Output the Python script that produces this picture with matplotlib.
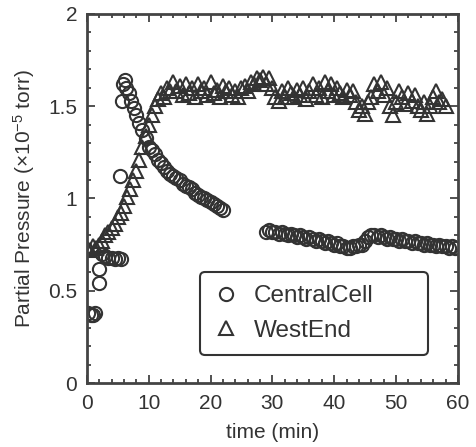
import numpy as np
import matplotlib
matplotlib.use("Agg")
from matplotlib import pyplot as plt
from matplotlib.ticker import MultipleLocator

# CentralCell partial pressure (x1e-5 torr) vs time (min)
central_t = [0.2, 0.6, 1.0, 1.4, 1.9, 2.0,
             2.5, 3.0, 3.5, 4.0, 4.5, 5.0, 5.5, 5.3,
             5.7, 5.9, 6.1, 6.4, 6.8, 7.2, 7.6, 8.0, 8.5, 9.0, 9.5, 10.0,
             10.5, 11.0, 11.5, 12.0, 12.5, 13.0, 13.5, 14.0, 14.5, 15.0,
             15.5, 16.0, 16.5, 17.0, 17.5, 18.0, 18.5, 19.0, 19.5, 20.0,
             20.5, 21.0, 21.5, 22.0,
             29.0, 29.5, 30.0, 30.5, 31.0, 31.5, 32.0, 32.5, 33.0, 33.5,
             34.0, 34.5, 35.0, 35.5, 36.0, 36.5, 37.0, 37.5, 38.0, 38.5,
             39.0, 39.5, 40.0, 40.5, 41.0, 41.5, 42.0, 42.5, 43.0, 43.5,
             44.0, 44.5, 45.0, 45.5, 46.0, 46.5, 47.0, 47.5, 48.0, 48.5,
             49.0, 49.5, 50.0, 50.5, 51.0, 51.5, 52.0, 52.5, 53.0, 53.5,
             54.0, 54.5, 55.0, 55.5, 56.0, 56.5, 57.0, 57.5, 58.0, 58.5,
             59.0, 59.5]
central_p = [0.38, 0.37, 0.37, 0.38, 0.54, 0.62,
             0.70, 0.69, 0.68, 0.68, 0.67, 0.68, 0.67, 1.12,
             1.53, 1.62, 1.64, 1.60, 1.57, 1.53, 1.49, 1.45, 1.41, 1.37, 1.33, 1.28,
             1.26, 1.24, 1.21, 1.19, 1.17, 1.15, 1.13, 1.12, 1.11, 1.10,
             1.08, 1.07, 1.06, 1.05, 1.03, 1.02, 1.01, 1.00, 0.99, 0.98,
             0.97, 0.96, 0.95, 0.94,
             0.82, 0.83, 0.82, 0.82, 0.81, 0.82, 0.81, 0.80, 0.81, 0.80,
             0.79, 0.80, 0.79, 0.78, 0.79, 0.78, 0.77, 0.78, 0.77, 0.76,
             0.77, 0.76, 0.75, 0.76, 0.74, 0.74, 0.73, 0.73, 0.74, 0.74,
             0.75, 0.75, 0.77, 0.79, 0.80, 0.80, 0.79, 0.80, 0.79, 0.78,
             0.79, 0.78, 0.78, 0.77, 0.78, 0.77, 0.77, 0.76, 0.77, 0.76,
             0.76, 0.75, 0.76, 0.75, 0.75, 0.74, 0.75, 0.74, 0.74, 0.73,
             0.74, 0.73]

# WestEnd, sampled every half minute from 0 to 58 min
west_t = [0.0, 0.5, 1.0, 1.5, 2.0, 2.5, 3.0, 3.5, 4.0, 4.5,
          5.0, 5.5, 6.0, 6.5, 7.0, 7.5, 8.0, 8.5, 9.0, 9.5,
          10.0, 10.5, 11.0, 11.5, 12.0, 12.5, 13.0, 13.5, 14.0, 14.5,
          15.0, 15.5, 16.0, 16.5, 17.0, 17.5, 18.0, 18.5, 19.0, 19.5,
          20.0, 20.5, 21.0, 21.5, 22.0, 22.5, 23.0, 23.5, 24.0, 24.5,
          25.0, 25.5, 26.0, 26.5, 27.0, 27.5, 28.0, 28.5, 29.0, 29.5,
          30.0, 30.5, 31.0, 31.5, 32.0, 32.5, 33.0, 33.5, 34.0, 34.5,
          35.0, 35.5, 36.0, 36.5, 37.0, 37.5, 38.0, 38.5, 39.0, 39.5,
          40.0, 40.5, 41.0, 41.5, 42.0, 42.5, 43.0, 43.5, 44.0, 44.5,
          45.0, 45.5, 46.0, 46.5, 47.0, 47.5, 48.0, 48.5, 49.0, 49.5,
          50.0, 50.5, 51.0, 51.5, 52.0, 52.5, 53.0, 53.5, 54.0, 54.5,
          55.0, 55.5, 56.0, 56.5, 57.0, 57.5, 58.0]
west_p = [0.73, 0.72, 0.74, 0.73, 0.75, 0.77, 0.80, 0.82, 0.84, 0.86,
          0.90, 0.92, 0.96, 1.01, 1.05, 1.10, 1.15, 1.21, 1.28, 1.34,
          1.40, 1.45, 1.50, 1.54, 1.57, 1.55, 1.60, 1.58, 1.63, 1.58,
          1.61, 1.56, 1.62, 1.57, 1.60, 1.55, 1.62, 1.58, 1.60, 1.56,
          1.63, 1.57, 1.59, 1.55, 1.61, 1.58, 1.60, 1.56, 1.58, 1.55,
          1.60, 1.61, 1.58, 1.63, 1.62, 1.65, 1.64, 1.66, 1.62, 1.65,
          1.60, 1.55, 1.53, 1.58, 1.55, 1.60, 1.57, 1.55, 1.59, 1.56,
          1.60, 1.54, 1.58, 1.62, 1.56, 1.60, 1.55, 1.63, 1.58, 1.62,
          1.56, 1.60, 1.57, 1.55, 1.59, 1.56, 1.58, 1.52, 1.48, 1.50,
          1.46, 1.52, 1.55, 1.62, 1.58, 1.63, 1.56, 1.60, 1.50, 1.45,
          1.52, 1.58, 1.55, 1.51, 1.57, 1.53, 1.56, 1.50, 1.48, 1.52,
          1.46, 1.50, 1.55, 1.58, 1.52, 1.54, 1.50]

ink = "#333333"
plt.rcParams['font.family'] = ['Liberation Sans', 'DejaVu Sans']
plt.rcParams['mathtext.fontset'] = 'custom'
plt.rcParams['mathtext.rm'] = 'Liberation Sans'
plt.rcParams['mathtext.it'] = 'Liberation Sans:italic'
plt.rcParams['text.color'] = ink

fig = plt.figure(figsize=(4.77, 4.47), dpi=100)
ax = fig.add_axes([0.182, 0.143, 0.778, 0.826])

ax.plot(central_t, central_p, linestyle='none', marker='o', ms=9.5,
        mfc='none', mec=ink, mew=1.5, label='CentralCell')
ax.plot(west_t, west_p, linestyle='none', marker='^', ms=10,
        mfc='none', mec=ink, mew=1.5, label='WestEnd')

ax.set_xlim(0, 60)
ax.set_ylim(0, 2)
ax.xaxis.set_major_locator(MultipleLocator(10))
ax.xaxis.set_minor_locator(MultipleLocator(2))
ax.yaxis.set_major_locator(MultipleLocator(0.5))
ax.yaxis.set_minor_locator(MultipleLocator(0.1))
ax.set_yticks([0, 0.5, 1, 1.5, 2], labels=['0', '0.5', '1', '1.5', '2'])
ax.tick_params(which='both', direction='in', top=True, right=True,
               colors=ink, labelcolor=ink, labelsize=15, width=1.2)
ax.tick_params(which='major', length=6)
ax.tick_params(which='minor', length=3)
ax.tick_params(axis='x', which='major', pad=8)
ax.tick_params(axis='y', which='major', pad=7)
for s in ax.spines.values():
    s.set_linewidth(2)
    s.set_color("#444444")

ax.set_xlabel("time (min)", fontsize=15, color=ink, labelpad=7)
ax.set_ylabel(r"Partial Pressure ($\times$10$^{-5}$ torr)", fontsize=15,
              color=ink, labelpad=8)

# wide box, entries left-aligned with empty space on the right
leg = ax.legend(loc='lower left', bbox_to_anchor=(0.305, 0.076, 0.615, 0.2),
                mode='expand', borderaxespad=0, fontsize=17.5, fancybox=True,
                handletextpad=0.65, labelspacing=0.5, borderpad=0.55,
                handlelength=1.0)
leg.get_frame().set_edgecolor(ink)
leg.get_frame().set_linewidth(1.5)
leg.get_frame().set_alpha(1)

fig.savefig("out.png", dpi=100)
